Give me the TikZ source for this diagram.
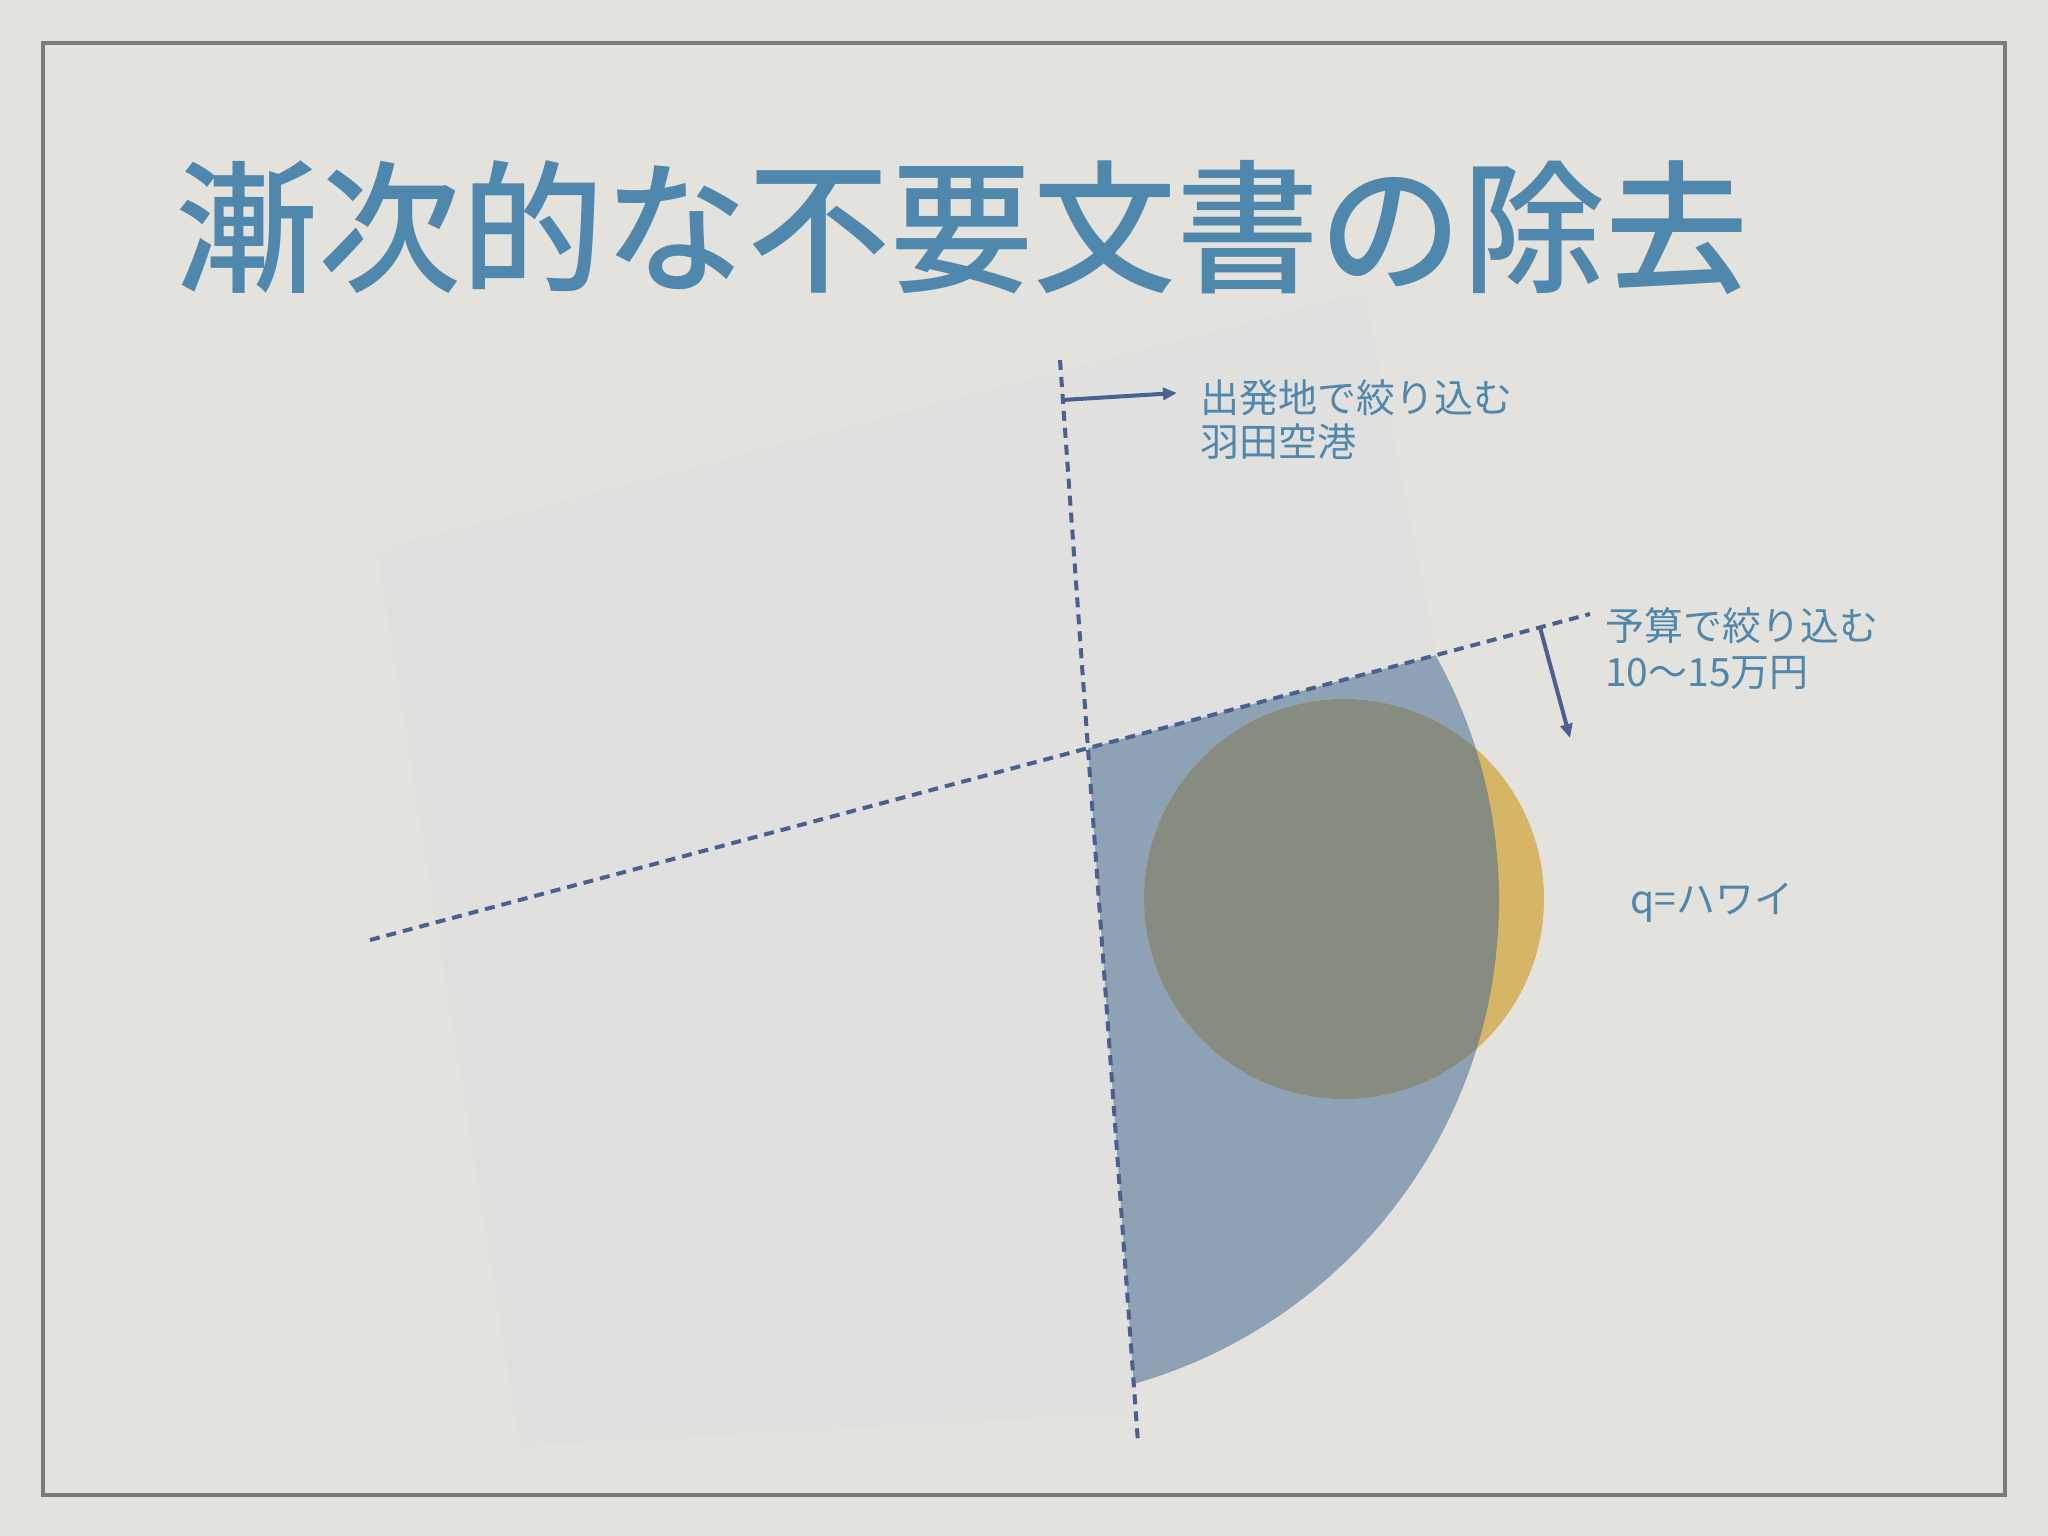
\documentclass[tikz,border=0pt]{standalone}
\usepackage{fontspec}
\newfontfamily\jp{Noto Sans CJK JP}
\newfontfamily\jpmed{Noto Sans CJK JP Medium}
\usetikzlibrary{arrows.meta,calc}
\definecolor{paper}{RGB}{227,226,220}
\definecolor{sheet}{RGB}{224,224,222}
\definecolor{frame}{RGB}{124,123,120}
\definecolor{bluesec}{RGB}{142,162,181}
\definecolor{gold}{RGB}{214,182,102}
\definecolor{olive}{RGB}{135,140,128}
\definecolor{ink}{RGB}{74,96,145}
\definecolor{txt}{RGB}{79,135,173}
\tikzset{
  dashline/.style={draw=ink, line width=4pt, dash pattern=on 10pt off 7pt},
  arr/.style={draw=ink, line width=4pt, -{Triangle[length=14pt,width=12pt]}},
  lbl/.style={text=txt, font=\jp\fontsize{39}{46}\selectfont, inner sep=0pt, anchor=base west},
  ttl/.style={text=txt, font=\jpmed\fontsize{143}{150}\selectfont, inner sep=0pt, anchor=west}
}
\begin{document}
\begin{tikzpicture}[x=1pt,y=-1pt]
\useasboundingbox (0,0) rectangle (2048,1536);
\fill[paper] (0,0) rectangle (2048,1536);
\draw[frame, line width=4pt] (43,43) rectangle (2005,1495);
% title
\node[ttl] (title) at (175,228) {漸次的な不要文書の除去};
% guide line end points
\coordinate (v1) at (1060,360);
\coordinate (v2) at (1138,1443);
\coordinate (d1) at (370,940);
\coordinate (d2) at (1590,614);
\coordinate (I) at (intersection of v1--v2 and d1--d2);
\coordinate (C) at (996,900);
\coordinate (Y) at (1344,899);
% light sheet
\fill[sheet] (377,550) -- (1365,292) -- (1437,656) -- (I) -- ($(v1)!0.972!(v2)$) -- (520,1446) -- cycle;
% blue sector
\begin{scope}
  \clip (I) -- ($(I)!1.5!(d2)$) -- (1900,1600) -- ($(I)!1.2!(v2)$) -- cycle;
  \fill[bluesec] (C) circle (503);
  \fill[gold] (Y) circle (200);
  \clip (C) circle (503);
  \fill[olive] (Y) circle (200);
\end{scope}
% dashed guide lines
\draw[dashline] (v1) -- (v2);
\draw[dashline] (d1) -- (d2);
% arrows
\coordinate (a1s) at ($(v1)!0.0369!(v2)$);
\coordinate (a1e) at (1177,393);
\coordinate (a2s) at ($(d1)!0.959!(d2)$);
\coordinate (a2e) at (1570,738);
\draw[arr] (a1s) -- (a1e);
\draw[arr] (a2s) -- (a2e);
% labels
\node[lbl] (l1a) at (1200,412) {出発地で絞り込む};
\node[lbl] (l1b) at (1200,456) {羽田空港};
\node[lbl] (l2a) at (1605,640) {予算で絞り込む};
\node[lbl] (l2b) at (1605,686) {10〜15万円};
\node[lbl] (q) at (1630,913) {q=ハワイ};
\end{tikzpicture}
\end{document}
